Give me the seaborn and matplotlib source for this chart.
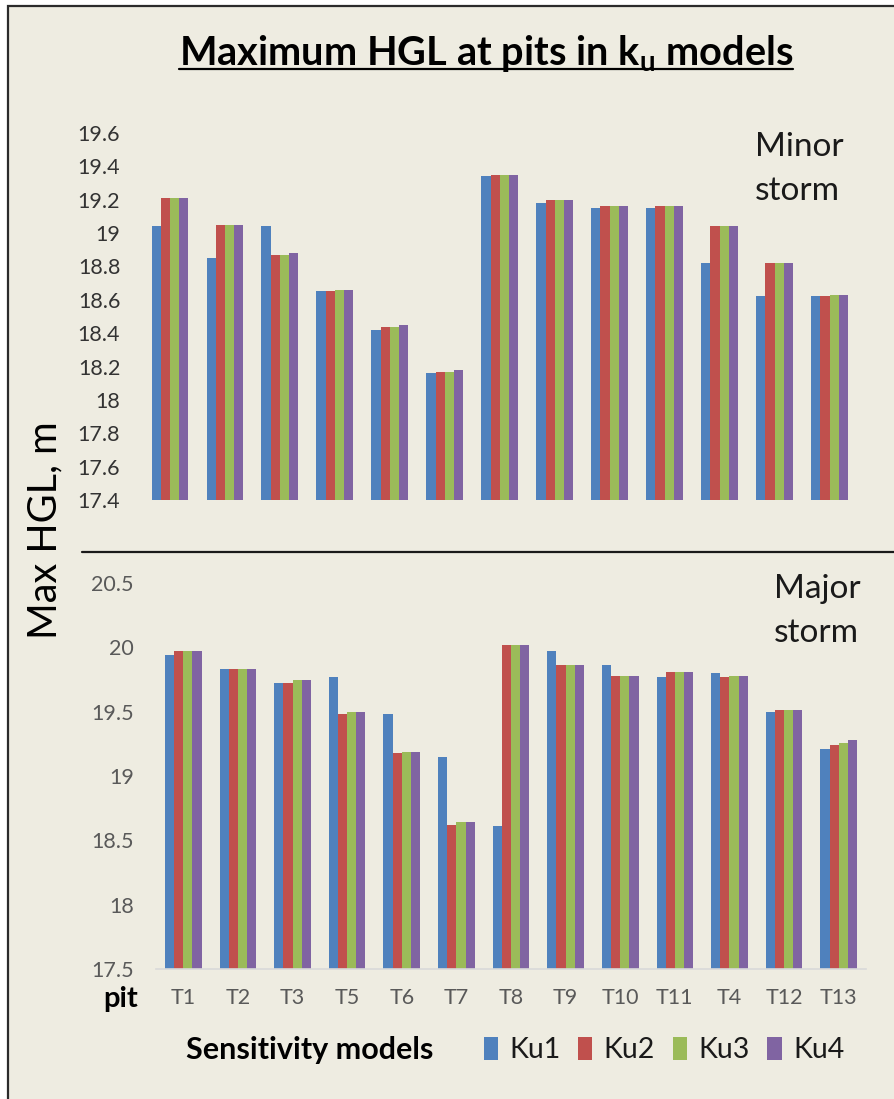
import numpy as np
import pandas as pd
import matplotlib
matplotlib.use("Agg")
import matplotlib.pyplot as plt
import seaborn as sns
from matplotlib.patches import Rectangle
from matplotlib.lines import Line2D

# ---------------- data ----------------
pits = ["T1", "T2", "T3", "T5", "T6", "T7", "T8", "T9", "T10", "T11", "T4", "T12", "T13"]
models = ["Ku1", "Ku2", "Ku3", "Ku4"]

minor_ku1 = [19.04, 18.85, 19.04, 18.65, 18.42, 18.16, 19.34, 19.18, 19.15, 19.15, 18.82, 18.62, 18.62]
minor_ku2 = [19.21, 19.05, 18.87, 18.65, 18.44, 18.17, 19.35, 19.20, 19.16, 19.16, 19.04, 18.82, 18.62]
minor_ku3 = [19.21, 19.05, 18.87, 18.66, 18.44, 18.17, 19.35, 19.20, 19.16, 19.16, 19.04, 18.82, 18.63]
minor_ku4 = [19.21, 19.05, 18.88, 18.66, 18.45, 18.18, 19.35, 19.20, 19.16, 19.16, 19.04, 18.82, 18.63]

major_ku1 = [19.94, 19.83, 19.72, 19.77, 19.48, 19.15, 18.61, 19.97, 19.86, 19.77, 19.80, 19.50, 19.21]
major_ku2 = [19.97, 19.83, 19.72, 19.48, 19.18, 18.62, 20.02, 19.86, 19.78, 19.81, 19.77, 19.51, 19.24]
major_ku3 = [19.97, 19.83, 19.75, 19.50, 19.19, 18.64, 20.02, 19.86, 19.78, 19.81, 19.78, 19.51, 19.26]
major_ku4 = [19.97, 19.83, 19.75, 19.50, 19.19, 18.64, 20.02, 19.86, 19.78, 19.81, 19.78, 19.51, 19.28]

minor_ticks = [17.4, 17.6, 17.8, 18.0, 18.2, 18.4, 18.6, 18.8, 19.0, 19.2, 19.4, 19.6]
minor_tick_labels = ["17.4", "17.6", "17.8", "18", "18.2", "18.4", "18.6", "18.8", "19", "19.2", "19.4", "19.6"]
major_ticks = [17.5, 18.0, 18.5, 19.0, 19.5, 20.0, 20.5]
major_tick_labels = ["17.5", "18", "18.5", "19", "19.5", "20", "20.5"]

colors = ["#4F81BD", "#C0504D", "#9BBB59", "#8064A2"]
BG = "#EEECE1"


def long_frame(series):
    rows = []
    for m, vals in zip(models, series):
        for p, v in zip(pits, vals):
            rows.append({"pit": p, "model": m, "value": v})
    return pd.DataFrame(rows)


df_minor = long_frame([minor_ku1, minor_ku2, minor_ku3, minor_ku4])
df_major = long_frame([major_ku1, major_ku2, major_ku3, major_ku4])

# ---------------- style ----------------
sns.set_style("white")
plt.rcParams["font.family"] = ["Lato", "DejaVu Sans"]
plt.rcParams["axes.facecolor"] = "none"

W, H = 894, 1099
fig = plt.figure(figsize=(W / 100, H / 100), dpi=100)
fig.patch.set_facecolor("white")

# background panel with frame
fig.add_artist(Rectangle((8 / W, -0.1), 1.2, (H - 6) / H + 0.1, transform=fig.transFigure,
                         facecolor=BG, edgecolor="#2b2b2b", linewidth=1.6, zorder=-5))


def fx(px):
    return px / W


def fy(py):
    return (H - py) / H


ax1 = fig.add_axes([fx(142.5), fy(500), (857 - 142.5) / W, (500 - 133) / H])
ax2 = fig.add_axes([fx(156), fy(969), (866 - 156) / W, (969 - 583) / H])

sns.barplot(data=df_minor, x="pit", y="value", hue="model", order=pits, hue_order=models,
            palette=colors, width=0.67, errorbar=None, ax=ax1, legend=False,
            linewidth=0, saturation=1)
sns.barplot(data=df_major, x="pit", y="value", hue="model", order=pits, hue_order=models,
            palette=colors, width=0.67, errorbar=None, ax=ax2, legend=False,
            linewidth=0, saturation=1)

ax1.set_ylim(17.4, 19.6)
ax1.set_yticks(minor_ticks)
ax1.set_yticklabels(minor_tick_labels)
ax1.set_xticks([])
ax1.set_xlim(-0.5, len(pits) - 0.5)
for s in ax1.spines.values():
    s.set_visible(False)
ax1.tick_params(axis="y", length=0, pad=16, labelsize=15.5, labelcolor="#333333")
ax1.set_xlabel("")
ax1.set_ylabel("")

ax2.set_ylim(17.5, 20.5)
ax2.set_yticks(major_ticks)
ax2.set_yticklabels(major_tick_labels)
ax2.set_xlim(-0.5, len(pits) - 0.5)
for k, s in ax2.spines.items():
    s.set_visible(k == "bottom")
ax2.spines["bottom"].set_color("#D9D9D9")
ax2.spines["bottom"].set_linewidth(1.2)
ax2.tick_params(axis="y", length=0, pad=16, labelsize=15.5, labelcolor="#595959")
ax2.tick_params(axis="x", length=0, pad=14, labelsize=15.5, labelcolor="#595959")
ax2.set_xlabel("")
ax2.set_ylabel("")

# separator line
fig.add_artist(Line2D([fx(82), 1.0], [fy(552), fy(552)], transform=fig.transFigure,
                      color="#1a1a1a", linewidth=1.6))

# title
title = fig.text(fx(486), fy(54), "Maximum HGL at pits in k$_\\mathregular{u}$ models",
                 ha="center", va="center", fontsize=28.6, fontweight="bold", color="black")
fig.canvas.draw()
bb = title.get_window_extent(fig.canvas.get_renderer())
fig.add_artist(Line2D([bb.x0 / W, bb.x1 / W], [fy(69), fy(69)], transform=fig.transFigure,
                      color="black", linewidth=1.6))

# storm labels
fig.text(fx(755), fy(169), "Minor\nstorm", ha="left", va="center", fontsize=24,
         linespacing=1.62, color="#1a1a1a")
fig.text(fx(774), fy(611), "Major\nstorm", ha="left", va="center", fontsize=24,
         linespacing=1.62, color="#1a1a1a")

# y label
fig.text(fx(45), fy(530), "Max HGL, m", rotation=90, ha="center", va="center",
         fontsize=28.5, color="black")

# pit label
fig.text(fx(121), fy(999), "pit", ha="center", va="center", fontsize=21,
         fontweight="bold", color="black")

# legend
fig.text(fx(186), fy(1050), "Sensitivity models", ha="left", va="center", fontsize=22,
         fontweight="bold", color="black")
handles = [Rectangle((0, 0), 1, 1, facecolor=c, edgecolor="none") for c in colors]
fig.legend(handles, models, loc="center", bbox_to_anchor=(fx(664), fy(1050)), ncol=4,
           frameon=False, fontsize=20.5, handlelength=0.5, handleheight=0.85,
           handletextpad=0.4, columnspacing=0.62, labelcolor="#1a1a1a",
           borderpad=0, borderaxespad=0)

fig.savefig("out.png", dpi=100, facecolor=fig.get_facecolor())
